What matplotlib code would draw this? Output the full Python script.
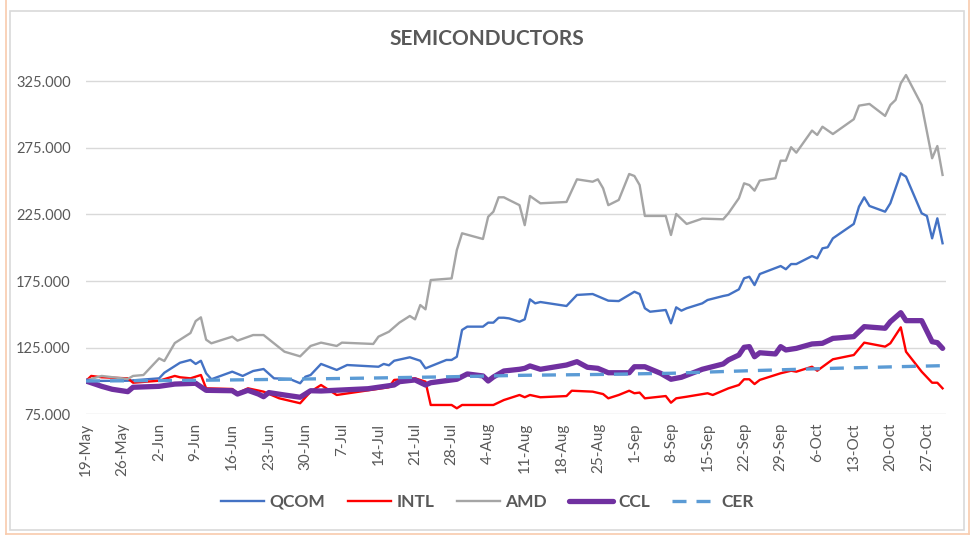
import matplotlib
matplotlib.use("Agg")
import matplotlib.pyplot as plt
import numpy as np
import pandas as pd
from matplotlib.lines import Line2D

plt.rcParams['font.family'] = ['Lato', 'DejaVu Sans']

start = pd.Timestamp('2020-05-19')

# series values (day offsets from 19-May)
qcom_days = [0, 8, 14, 15, 18, 20, 21, 22, 23, 24, 28, 30, 32, 34, 36, 39, 41, 42, 43, 45,
             48, 50, 56, 57, 58, 59, 62, 64, 65, 69, 70, 71, 72, 73, 76, 77, 78, 79, 80, 81,
             83, 84, 85, 86, 87, 92, 94, 97, 100, 102, 105, 106, 107, 108, 111, 112, 113, 114, 115, 118,
             119, 122, 123, 125, 126, 127, 128, 129, 133, 134, 135, 136, 139, 140, 141, 142, 143, 147, 148, 149,
             150, 153, 154, 156, 157, 160, 161, 162, 163, 164]
qcom_vals = [100, 100.2, 102, 106.2, 113.7, 115.8, 112.8, 115.2, 105.8, 101.3, 107, 103.8, 107.5, 109, 102, 101.5, 98.3, 103.2, 104.5, 112.8,
             108.3, 112, 110.7, 112.8, 111.8, 115.2, 117.8, 115.2, 109.5, 115.8, 115.8, 118.2, 138.3, 140.8, 140.8, 143.8, 143.8, 147.5, 147.5, 147,
             144.5, 146.3, 161.3, 158.3, 159.3, 156.3, 164.6, 165.3, 160.3, 160, 167, 165.3, 154.6, 152, 153.3, 143.3, 155.3, 152.8, 154.6, 158.3,
             160.8, 163.8, 164.6, 168.8, 177.1, 178.3, 172, 180.3, 186.3, 183.9, 187.8, 187.8, 193.8, 192.1, 199.6, 200.4, 207.1, 217.9, 230.9, 237.9,
             231.4, 227.1, 233.4, 255.9, 253.4, 225.9, 223.9, 207.1, 222.1, 203.4]

intl_days = [0, 1, 3, 8, 9, 14, 17, 18, 20, 22, 23, 28, 29, 31, 34, 37, 41, 43, 45, 46,
             48, 58, 59, 63, 65, 66, 70, 71, 72, 78, 80, 83, 84, 85, 87, 92, 93, 97, 99, 100,
             102, 104, 105, 106, 107, 111, 112, 113, 115, 119, 120, 123, 125, 126, 127, 128, 129, 133, 135, 136,
             139, 140, 143, 147, 149, 153, 154, 156, 157, 160, 162, 163, 164]
intl_vals = [100, 103.8, 102.8, 102, 98.7, 100.2, 103.8, 102.8, 102, 104.5, 94.5, 94, 90.8, 94.5, 92, 87, 83.3, 92, 97, 94.5,
             89.5, 95.3, 100.8, 102, 99.5, 82, 82, 79.5, 82, 82, 85.7, 89.5, 87.8, 89.5, 87.8, 88.7, 92.7, 92, 90.2, 87,
             89.5, 92.7, 90.8, 91.3, 87, 88.7, 83.7, 87, 88.2, 90.8, 89.5, 94.5, 97, 101.3, 101.3, 97.7, 100.8, 105.8, 107.7, 107,
             110.7, 107.7, 116.3, 119.5, 128.8, 125.8, 128.3, 140.3, 122, 107, 98.7, 98.7, 94.5]

amd_days = [0, 3, 8, 9, 11, 14, 15, 17, 20, 21, 22, 23, 24, 28, 29, 32, 34, 38, 41, 43,
            45, 48, 49, 55, 56, 58, 60, 62, 63, 64, 65, 66, 70, 71, 72, 76, 77, 78, 79, 80,
            81, 83, 84, 85, 87, 92, 94, 97, 98, 99, 100, 102, 104, 105, 106, 107, 111, 112, 113, 115,
            118, 122, 123, 125, 126, 127, 128, 129, 132, 133, 134, 135, 136, 139, 140, 141, 143, 147, 148, 150,
            153, 154, 155, 156, 157, 160, 162, 163, 164]
amd_vals = [100.5, 103.8, 101.5, 103.8, 104.5, 117, 115, 128.5, 136, 145, 147.8, 131, 128.3, 133.3, 130.3, 134.5, 134.5, 122, 118.5, 126.3,
            128.8, 126.3, 128.8, 127.8, 133.3, 137, 143.8, 148.8, 146.3, 157, 153.8, 175.8, 177, 198.3, 210.9, 206.6, 223.3, 227.1, 237.9, 237.9,
            235.9, 232, 217, 238.9, 233.4, 234.4, 251.4, 249.6, 251.4, 244.7, 232, 235.9, 255.4, 253.9, 247.1, 223.9, 223.9, 209.6, 225.4, 217.9,
            221.9, 221.4, 225.9, 237.2, 248.4, 247.1, 242.9, 250.4, 252.2, 265.4, 265.4, 275.5, 271.4, 288, 284.7, 290.9, 285.4, 296.5, 306.7, 308,
            299, 307.2, 311, 323.5, 329.7, 307.2, 267.2, 276.4, 254.7]

ccl_days = [0, 3, 5, 8, 9, 14, 17, 21, 23, 28, 29, 31, 33, 34, 35, 38, 41, 43, 45, 54,
            59, 60, 63, 65, 66, 71, 73, 76, 77, 78, 80, 83, 84, 85, 87, 92, 94, 96, 98, 100,
            104, 105, 107, 110, 112, 114, 118, 122, 123, 125, 126, 127, 128, 129, 132, 133, 134, 136, 139, 141,
            143, 147, 149, 153, 154, 156, 157, 160, 162, 163, 164]
ccl_vals = [100, 96, 93.8, 92, 95.3, 96, 97.7, 98.3, 93, 92.7, 90.2, 93, 90.2, 88.2, 91.3, 89.5, 87.8, 92.7, 92.5, 94.2,
            97, 99.5, 100.8, 97, 98.7, 101.3, 105.3, 103.8, 100, 103, 107.5, 108.8, 109.5, 111.3, 108.8, 112, 114.5, 110.3, 109.5, 106.2,
            106.2, 110.7, 110.7, 105.8, 101.3, 102.8, 108.8, 112.8, 115.8, 119.5, 125.3, 125.8, 118.2, 121.2, 120.3, 125.8, 123.3, 124.5, 127.8, 128.3,
            132, 133.3, 140.8, 139.6, 144.5, 151.3, 145.3, 145.3, 129.5, 128.8, 124.5]

cer_days = [0, 14, 28, 42, 56, 70, 84, 98, 112, 126, 140, 154, 164]
cer_vals = [100, 100.3, 100.8, 101.5, 102.3, 103.2, 104.3, 104.9, 105.8, 107.6, 109.2, 110.6, 111.5]

y_ticks = [75, 125, 175, 225, 275, 325]


def to_dates(days):
    return start + pd.to_timedelta(days, unit='D')


txt = '#595959'
fig = plt.figure(figsize=(9.8, 5.45), dpi=100)

# chart area frame (excel-like)
fig.add_artist(plt.Rectangle((10 / 980, 1 - 530 / 545), 954 / 980, 519 / 545,
                             transform=fig.transFigure, fill=False, ec='#d9d9d9', lw=1.2))
fig.add_artist(Line2D([6 / 980, 6 / 980], [0.02, 1], transform=fig.transFigure, color='#f8cbad', lw=1.2))
fig.add_artist(Line2D([969 / 980, 969 / 980], [0.02, 1], transform=fig.transFigure, color='#f8cbad', lw=1.2))
fig.add_artist(Line2D([6 / 980, 969 / 980], [1 - 534 / 545] * 2, transform=fig.transFigure, color='#f8cbad', lw=1.2))

ax = fig.add_axes([86 / 980, 1 - 414.3 / 545, 859.7 / 980, 353 / 545])

ax.plot(to_dates(qcom_days), qcom_vals, color='#4472c4', lw=1.7, label='QCOM')
ax.plot(to_dates(intl_days), intl_vals, color='#ff0000', lw=1.7, label='INTL')
ax.plot(to_dates(amd_days), amd_vals, color='#a5a5a5', lw=1.7, label='AMD')
ax.plot(to_dates(ccl_days), ccl_vals, color='#7030a0', lw=3.8, label='CCL', solid_capstyle='round')
ax.plot(to_dates(cer_days), cer_vals, color='#5b9bd5', lw=2.4, dashes=(4.2, 3.0), label='CER')

ax.set_ylim(75, 340)
ax.set_xlim(start, start + pd.Timedelta(days=164.6))
ax.set_yticks(y_ticks)
ax.set_yticklabels([f'{v}.000' for v in y_ticks])
ticks = pd.date_range(start, periods=24, freq='7D')
ax.set_xticks(ticks)
ax.set_xticklabels([f'{d.day}-{d.strftime("%b")}' for d in ticks], rotation=90)

ax.grid(axis='y', color='#d9d9d9', lw=1)
ax.set_axisbelow(True)
for s in ax.spines.values():
    s.set_visible(False)
ax.tick_params(length=0, colors=txt, labelsize=10.5)
ax.tick_params(axis='x', labelsize=11, pad=6)
ax.tick_params(axis='y', pad=11)

fig.text(0.497, 1 - 39 / 545, 'SEMICONDUCTORS', ha='center', va='center',
         fontsize=15, fontweight='bold', color=txt)

leg = fig.legend(loc='center', bbox_to_anchor=(0.497, 1 - 501.7 / 545), ncol=5, frameon=False,
                 prop={'weight': 'bold', 'size': 12.5}, handlelength=2.5, handletextpad=0.3,
                 columnspacing=1.3, labelcolor=txt)

fig.savefig('out.png', dpi=100)
